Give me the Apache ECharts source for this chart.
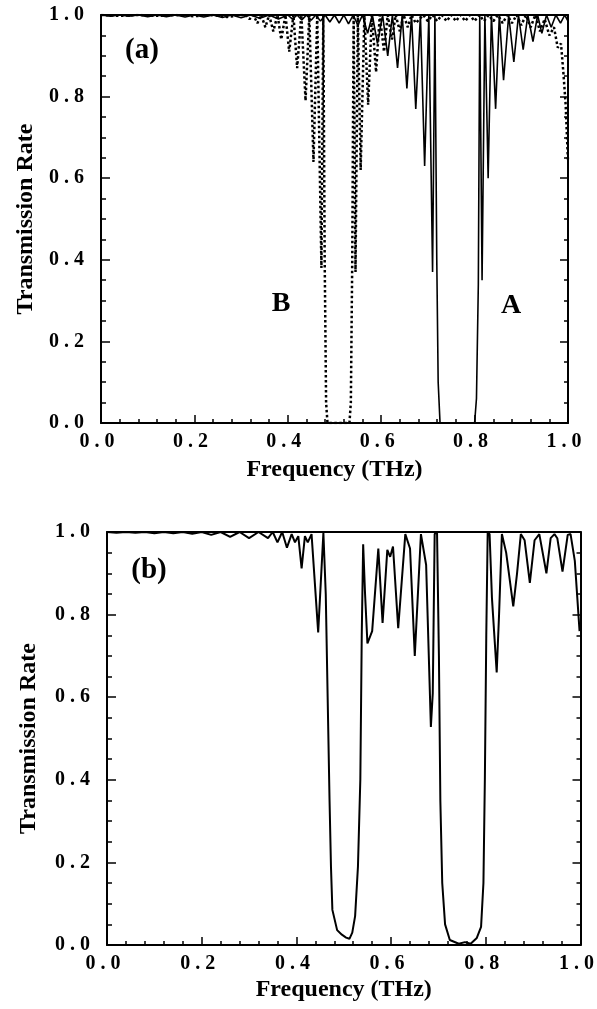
<!DOCTYPE html>
<html>
<head>
<meta charset="utf-8">
<script src="https://cdn.jsdelivr.net/npm/echarts@6/dist/echarts.min.js"></script>
<style>html,body{margin:0;padding:0;background:#fff;}#c{width:597px;height:1009px;}</style>
</head>
<body>
<div id="c"></div>
<script>
// Tick labels (as printed, spaced)
const tickLabels = ['0 . 0', '0 . 2', '0 . 4', '0 . 6', '0 . 8', '1 . 0'];

// Panel (a): structure A (solid)
const aSolidFreq = [0, 0.02, 0.04, 0.06, 0.08, 0.10, 0.12, 0.14, 0.16, 0.18, 0.20, 0.22, 0.24, 0.26, 0.28, 0.30, 0.32, 0.34, 0.36, 0.38, 0.40, 0.41, 0.42, 0.43, 0.44, 0.45, 0.46, 0.47, 0.48, 0.49, 0.50, 0.51, 0.52, 0.53, 0.54, 0.55, 0.56, 0.571, 0.581, 0.592, 0.603, 0.614, 0.624, 0.635, 0.645, 0.655, 0.665, 0.674, 0.684, 0.693, 0.702, 0.710, 0.715, 0.719, 0.722, 0.726, 0.800, 0.804, 0.808, 0.811, 0.816, 0.822, 0.829, 0.836, 0.845, 0.853, 0.862, 0.873, 0.884, 0.894, 0.904, 0.914, 0.925, 0.935, 0.944, 0.954, 0.964, 0.974, 0.984, 0.993, 1.0];
const aSolidTrans = [1, 0.997, 1, 0.997, 1, 0.996, 1, 0.996, 1, 0.995, 1, 0.995, 1, 0.994, 1, 0.993, 1, 0.992, 1, 0.99, 1, 0.99, 1, 0.988, 1, 0.987, 1, 0.985, 1, 0.983, 1, 0.98, 1, 0.978, 1, 0.975, 1, 0.955, 1, 0.93, 1, 0.90, 1, 0.87, 1, 0.82, 1, 0.77, 1, 0.63, 1, 0.37, 1, 0.40, 0.10, 0, 0, 0.06, 0.34, 1, 0.35, 1, 0.60, 1, 0.77, 1, 0.84, 1, 0.885, 1, 0.915, 1, 0.935, 1, 0.955, 1, 0.97, 1, 0.98, 1, 0.985];

// Panel (a): structure B (dotted)
const aDotFreq = [0, 0.04, 0.08, 0.12, 0.16, 0.20, 0.24, 0.27, 0.30, 0.31, 0.318, 0.326, 0.335, 0.343, 0.352, 0.360, 0.369, 0.378, 0.386, 0.395, 0.403, 0.412, 0.420, 0.429, 0.438, 0.446, 0.455, 0.463, 0.472, 0.476, 0.479, 0.482, 0.485, 0.532, 0.535, 0.538, 0.541, 0.545, 0.550, 0.556, 0.564, 0.572, 0.580, 0.589, 0.597, 0.606, 0.614, 0.623, 0.631, 0.640, 0.648, 0.657, 0.665, 0.674, 0.69, 0.70, 0.71, 0.72, 0.73, 0.74, 0.75, 0.76, 0.77, 0.78, 0.79, 0.80, 0.81, 0.82, 0.83, 0.84, 0.85, 0.86, 0.87, 0.88, 0.89, 0.90, 0.91, 0.92, 0.93, 0.94, 0.95, 0.96, 0.97, 0.978, 0.985, 0.99, 0.995, 1.0];
const aDotTrans = [1, 0.998, 1, 0.998, 1, 0.997, 1, 0.995, 1, 1, 0.99, 1, 0.98, 1, 0.97, 1, 0.96, 1, 0.94, 1, 0.91, 1, 0.87, 1, 0.79, 1, 0.64, 1, 0.38, 1, 0.40, 0.05, 0, 0, 0.05, 0.40, 1, 0.37, 1, 0.62, 1, 0.78, 1, 0.86, 1, 0.91, 1, 0.94, 1, 0.96, 1, 0.97, 1, 0.98, 1, 0.985, 1, 0.985, 1, 0.985, 1, 0.985, 1, 0.985, 1, 0.985, 1, 0.985, 1, 0.985, 1, 0.98, 1, 0.98, 1, 0.975, 1, 0.97, 1, 0.96, 0.99, 0.95, 0.97, 0.92, 0.93, 0.86, 0.78, 0.64];

// Panel (b)
const bFreq = [0, 0.02, 0.04, 0.06, 0.08, 0.10, 0.12, 0.14, 0.16, 0.18, 0.20, 0.22, 0.24, 0.26, 0.28, 0.30, 0.32, 0.34, 0.35, 0.36, 0.37, 0.38, 0.39, 0.397, 0.404, 0.411, 0.418, 0.424, 0.432, 0.446, 0.457, 0.462, 0.466, 0.470, 0.473, 0.476, 0.486, 0.496, 0.505, 0.512, 0.518, 0.524, 0.530, 0.535, 0.538, 0.541, 0.545, 0.550, 0.560, 0.573, 0.582, 0.592, 0.598, 0.604, 0.615, 0.630, 0.640, 0.650, 0.663, 0.674, 0.684, 0.688, 0.692, 0.697, 0.701, 0.704, 0.708, 0.714, 0.724, 0.743, 0.756, 0.768, 0.781, 0.790, 0.795, 0.798, 0.801, 0.804, 0.808, 0.813, 0.823, 0.828, 0.834, 0.843, 0.858, 0.866, 0.874, 0.882, 0.893, 0.903, 0.913, 0.928, 0.937, 0.945, 0.951, 0.962, 0.973, 0.979, 0.988, 0.998];
const bTrans = [1, 0.998, 1, 0.998, 1, 0.997, 1, 0.997, 1, 0.996, 1, 0.993, 1, 0.988, 1, 0.985, 1, 0.985, 1, 0.975, 1, 0.962, 0.995, 0.975, 0.99, 0.912, 0.99, 0.975, 0.995, 0.757, 0.998, 0.85, 0.60, 0.35, 0.19, 0.085, 0.036, 0.025, 0.018, 0.015, 0.03, 0.07, 0.19, 0.40, 0.75, 0.97, 0.85, 0.73, 0.76, 0.96, 0.78, 0.957, 0.94, 0.965, 0.767, 0.995, 0.96, 0.70, 0.995, 0.92, 0.528, 0.61, 0.995, 1.0, 0.70, 0.35, 0.15, 0.05, 0.012, 0.003, 0.007, 0.003, 0.017, 0.044, 0.15, 0.40, 0.75, 1.0, 0.995, 0.84, 0.66, 0.80, 0.995, 0.95, 0.82, 0.90, 0.995, 0.98, 0.877, 0.98, 0.995, 0.90, 0.985, 0.995, 0.985, 0.904, 0.993, 0.995, 0.93, 0.76];

function zip(xs, ys) { return xs.map((x, i) => [x, ys[i]]); }

const FONT = 'Liberation Serif';
const black = '#000';

function mainX(grid, gap) {
  return {
    type: 'value', gridIndex: grid, position: 'bottom', min: 0, max: 1, interval: 0.2,
    axisLine: { show: true, onZero: false, lineStyle: { color: black, width: 2 } },
    axisTick: { show: true, inside: true, length: 8, lineStyle: { color: black, width: 1.5 } },
    minorTick: { show: true, splitNumber: 5, length: 4, lineStyle: { color: black, width: 1.5 } },
    splitLine: { show: false },
    axisLabel: {
      show: true, margin: 9, color: black, fontFamily: FONT, fontWeight: 'bold', fontSize: 20,
      padding: [0, 8, 0, 0],
      formatter: v => tickLabels[Math.round(v / 0.2)]
    },
    name: 'Frequency (THz)', nameLocation: 'middle', nameGap: gap,
    nameTextStyle: { color: black, fontFamily: FONT, fontWeight: 'bold', fontSize: 24 }
  };
}
function topX(grid) {
  return {
    type: 'value', gridIndex: grid, position: 'top', min: 0, max: 1, interval: 0.2,
    axisLine: { show: true, onZero: false, lineStyle: { color: black, width: 2 } },
    axisTick: { show: false }, axisLabel: { show: false }, splitLine: { show: false }
  };
}
function mainY(grid, gap) {
  return {
    type: 'value', gridIndex: grid, position: 'left', min: 0, max: 1, interval: 0.2,
    axisLine: { show: true, onZero: false, lineStyle: { color: black, width: 2 } },
    axisTick: { show: true, inside: true, length: 9, lineStyle: { color: black, width: 1.5 } },
    minorTick: { show: true, splitNumber: 4, length: 5, lineStyle: { color: black, width: 1.5 } },
    splitLine: { show: false },
    axisLabel: {
      show: true, margin: 17, color: black, fontFamily: FONT, fontWeight: 'bold', fontSize: 20,
      formatter: v => tickLabels[Math.round(v / 0.2)]
    },
    name: 'Transmission Rate', nameLocation: 'middle', nameGap: gap,
    nameTextStyle: { color: black, fontFamily: FONT, fontWeight: 'bold', fontSize: 24 }
  };
}
function rightY(grid) {
  return {
    type: 'value', gridIndex: grid, position: 'right', min: 0, max: 1, interval: 0.2,
    axisLine: { show: true, onZero: false, lineStyle: { color: black, width: 2 } },
    axisTick: { show: true, inside: true, length: 8, lineStyle: { color: black, width: 1.5 } },
    minorTick: { show: true, splitNumber: 4, length: 4, lineStyle: { color: black, width: 1.5 } },
    axisLabel: { show: false }, splitLine: { show: false }
  };
}

const chart = echarts.init(document.getElementById('c'), null, { renderer: 'canvas' });
chart.setOption({
  animation: false,
  backgroundColor: '#fff',
  grid: [
    { left: 101, top: 15, width: 467, height: 408 },
    { left: 107, top: 532, width: 475, height: 413 }
  ],
  xAxis: [mainX(0, 35), topX(0), mainX(1, 33), topX(1)],
  yAxis: [mainY(0, 63), rightY(0), mainY(1, 66), rightY(1)],
  series: [
    {
      name: 'B', type: 'line', xAxisIndex: 0, yAxisIndex: 0, showSymbol: false,
      data: zip(aDotFreq, aDotTrans),
      lineStyle: { color: black, width: 2.5, type: [2.5, 2.5] }
    },
    {
      name: 'A', type: 'line', xAxisIndex: 0, yAxisIndex: 0, showSymbol: false,
      data: zip(aSolidFreq, aSolidTrans),
      lineStyle: { color: black, width: 1.6 }
    },
    {
      name: 'b', type: 'line', xAxisIndex: 2, yAxisIndex: 2, showSymbol: false,
      data: zip(bFreq, bTrans),
      lineStyle: { color: black, width: 2 }
    }
  ],
  graphic: [
    { type: 'text', x: 142, y: 51, style: { text: '(a)', align: 'center', verticalAlign: 'middle', font: 'bold 29px "Liberation Serif"', fill: black } },
    { type: 'text', x: 149, y: 571, style: { text: '(b)', align: 'center', verticalAlign: 'middle', font: 'bold 29px "Liberation Serif"', fill: black } },
    { type: 'text', x: 281, y: 304, style: { text: 'B', align: 'center', verticalAlign: 'middle', font: 'bold 28px "Liberation Serif"', fill: black } },
    { type: 'text', x: 511, y: 306, style: { text: 'A', align: 'center', verticalAlign: 'middle', font: 'bold 28px "Liberation Serif"', fill: black } }
  ]
});
</script>
</body>
</html>
